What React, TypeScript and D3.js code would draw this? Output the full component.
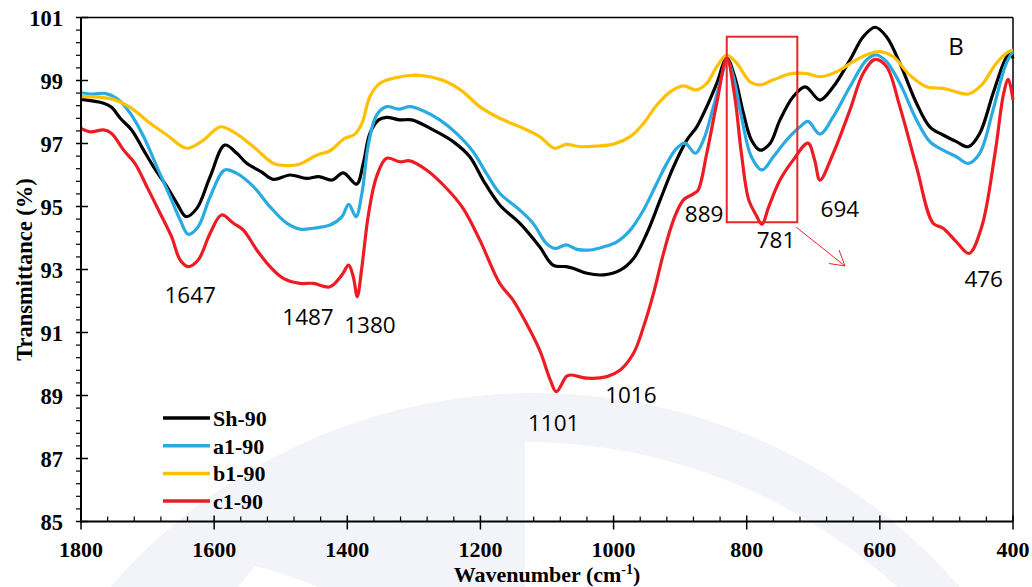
import React from "react";
import * as d3 from "d3";

type Pt = [number, number];

const xDomain: [number, number] = [1800, 400];
const yDomain: [number, number] = [85, 101];
const xTicks = [1800, 1600, 1400, 1200, 1000, 800, 600, 400];
const yTicks = [85, 87, 89, 91, 93, 95, 97, 99, 101];

const seriesNames = ["Sh-90", "a1-90", "b1-90", "c1-90"];
const seriesColors = ["#000000", "#29abe2", "#ffc000", "#ed1c24"];

const sh90: Pt[] = [
  [1800, 98.4], [1766, 98.28], [1754, 98.15], [1741, 97.8], [1724, 97.43], [1706, 96.79], [1691, 96.26],
  [1671, 95.63], [1656, 95.1], [1642, 94.68], [1626, 94.94], [1606, 95.95], [1584, 96.95], [1566, 96.69],
  [1551, 96.37], [1529, 96.1], [1511, 95.86], [1486, 96.0], [1461, 95.89], [1443, 95.95], [1423, 95.84],
  [1406, 96.07], [1386, 95.71], [1376, 96.37], [1366, 97.32], [1353, 97.75], [1341, 97.83], [1321, 97.75],
  [1303, 97.75], [1271, 97.43], [1241, 97.06], [1216, 96.58], [1196, 95.84], [1171, 95.05], [1141, 94.47],
  [1111, 93.72], [1091, 93.14], [1071, 93.09], [1061, 93.04], [1040, 92.88], [1015, 92.83], [990, 92.98],
  [970, 93.35], [950, 94.15], [930, 95.21], [910, 96.26], [890, 97.11], [875, 97.53], [860, 98.17],
  [845, 98.91], [830, 99.7], [818, 99.12], [805, 97.96], [793, 97.11], [780, 96.79], [765, 97.0],
  [750, 97.75], [730, 98.49], [712, 98.8], [690, 98.38], [670, 98.8], [645, 99.65], [625, 100.39],
  [607, 100.69], [590, 100.39], [570, 99.55], [545, 98.28], [525, 97.53], [505, 97.27], [485, 97.06],
  [467, 96.9], [450, 97.32], [430, 98.59], [412, 99.65], [404, 99.88], [400, 99.7],
];

const a190: Pt[] = [
  [1800, 98.61], [1782, 98.57], [1764, 98.59], [1746, 98.43], [1726, 97.96], [1706, 97.22], [1686, 96.26],
  [1666, 95.31], [1651, 94.57], [1639, 94.12], [1624, 94.36], [1606, 95.31], [1584, 96.16], [1566, 96.05],
  [1541, 95.63], [1516, 94.99], [1491, 94.47], [1471, 94.28], [1451, 94.31], [1426, 94.41], [1408, 94.68],
  [1398, 95.07], [1387, 94.68], [1378, 95.42], [1368, 97.01], [1356, 97.9], [1341, 98.17], [1323, 98.09],
  [1306, 98.17], [1286, 98.04], [1261, 97.75], [1236, 97.32], [1211, 96.74], [1191, 96.05], [1171, 95.42],
  [1141, 94.89], [1121, 94.47], [1101, 93.83], [1088, 93.67], [1071, 93.78], [1055, 93.64], [1035, 93.62],
  [1015, 93.72], [995, 93.88], [975, 94.25], [955, 94.89], [935, 95.74], [920, 96.37], [905, 96.85],
  [893, 97.01], [877, 96.69], [865, 97.11], [850, 98.17], [835, 99.33], [830, 99.67], [820, 99.12],
  [808, 97.85], [793, 96.58], [777, 96.16], [760, 96.58], [740, 97.11], [720, 97.53], [708, 97.7],
  [690, 97.3], [670, 97.85], [645, 98.8], [620, 99.65], [605, 99.81], [590, 99.6], [570, 98.91],
  [545, 97.75], [525, 97.06], [505, 96.79], [485, 96.58], [467, 96.37], [450, 96.69], [430, 98.06],
  [412, 99.44], [402, 99.86], [400, 99.9],
];

const b190: Pt[] = [
  [1800, 98.49], [1771, 98.47], [1751, 98.4], [1726, 98.15], [1696, 97.64], [1671, 97.27], [1641, 96.85],
  [1616, 97.11], [1591, 97.53], [1571, 97.37], [1541, 96.9], [1511, 96.37], [1491, 96.3], [1471, 96.35],
  [1446, 96.63], [1426, 96.77], [1404, 97.16], [1389, 97.29], [1378, 97.64], [1366, 98.49], [1351, 98.91],
  [1331, 99.07], [1298, 99.17], [1276, 99.12], [1251, 98.96], [1226, 98.64], [1201, 98.17], [1171, 97.8],
  [1141, 97.53], [1111, 97.22], [1089, 96.85], [1071, 96.97], [1051, 96.9], [1025, 96.92], [1000, 96.98],
  [975, 97.22], [955, 97.64], [935, 98.22], [915, 98.64], [895, 98.83], [876, 98.7], [860, 98.91],
  [845, 99.44], [830, 99.81], [815, 99.55], [795, 98.96], [780, 98.86], [760, 99.02], [735, 99.21],
  [710, 99.22], [688, 99.12], [665, 99.28], [640, 99.6], [615, 99.86], [597, 99.91], [580, 99.76],
  [555, 99.17], [530, 98.8], [505, 98.75], [485, 98.64], [467, 98.57], [447, 98.86], [425, 99.55],
  [407, 99.91], [400, 99.97],
];

const c190: Pt[] = [
  [1800, 97.48], [1786, 97.37], [1766, 97.43], [1754, 97.32], [1736, 96.79], [1719, 96.37], [1701, 95.63],
  [1681, 94.78], [1664, 94.04], [1651, 93.3], [1639, 93.09], [1624, 93.3], [1606, 94.15], [1589, 94.73],
  [1571, 94.47], [1556, 94.25], [1536, 93.62], [1516, 93.09], [1496, 92.72], [1471, 92.56], [1451, 92.56],
  [1426, 92.45], [1408, 92.83], [1398, 93.14], [1391, 92.77], [1385, 92.14], [1378, 93.09], [1368, 94.78],
  [1356, 95.95], [1341, 96.53], [1321, 96.42], [1306, 96.45], [1281, 96.16], [1251, 95.58], [1226, 94.94],
  [1201, 93.94], [1171, 92.56], [1151, 92.03], [1131, 91.29], [1111, 90.44], [1095, 89.49], [1086, 89.12],
  [1071, 89.6], [1065, 89.65], [1040, 89.55], [1010, 89.6], [990, 89.81], [970, 90.34], [955, 91.18],
  [940, 92.24], [925, 93.51], [910, 94.57], [895, 95.21], [880, 95.4], [873, 95.52], [860, 96.69],
  [845, 98.28], [830, 99.7], [818, 98.49], [808, 96.69], [797, 95.21], [786, 94.73], [777, 94.44],
  [767, 94.99], [750, 95.84], [730, 96.48], [708, 97.01], [698, 96.48], [690, 95.84], [670, 96.69],
  [645, 98.06], [625, 99.23], [607, 99.67], [590, 99.44], [570, 98.17], [545, 96.26], [520, 94.47],
  [505, 94.31], [485, 93.88], [466, 93.51], [447, 94.36], [427, 96.69], [414, 98.59], [407, 99.04],
  [400, 98.38],
];

const seriesData = [sh90, a190, b190, c190];

// peak annotations: [label, wavenumber position, value position (baseline)]
const peakLabels: [string, number, number][] = [
  ["1647", 1636, 91.94],
  ["1487", 1459, 91.24],
  ["1380", 1366, 90.98],
  ["1101", 1090, 87.87],
  ["1016", 974, 88.76],
  ["889", 864, 94.51],
  ["781", 756, 93.68],
  ["694", 660, 94.67],
  ["476", 444, 92.44],
];

const W = 1032;
const H = 587;
const left = 81;
const right = 1013;
const top = 17.5;
const bottom = 521.5;

export default function App() {
  const x = d3.scaleLinear().domain(xDomain).range([left, right]);
  const y = d3.scaleLinear().domain(yDomain).range([bottom, top]);
  const line = d3
    .line<Pt>()
    .x((d) => x(d[0]))
    .y((d) => y(d[1]))
    .curve(d3.curveCatmullRom.alpha(0.5));

  const xMinor = d3.range(1800, 399, -40).filter((v) => v % 200 !== 0);
  const yMinor = d3
    .range(85, 101.01, 0.4)
    .filter((v) => Math.abs((v - 85) / 2 - Math.round((v - 85) / 2)) > 0.01);

  const serif = "'Liberation Serif', 'Times New Roman', serif";
  const sans = "'Open Sans', 'Noto Sans', sans-serif";

  const boxL = x(830), boxR = x(724), boxT = y(100.39), boxB = y(94.5);
  const arrowStart: [number, number] = [boxR - 1, boxB + 5];
  const arrowEnd: [number, number] = [845, 266];

  return (
    <svg
      width={W}
      height={H}
      style={{ position: "absolute", left: 0, top: 0, background: "#fff" }}
      xmlns="http://www.w3.org/2000/svg"
    >
      <defs>
        <clipPath id="rightHalf">
          <rect x={525} y={0} width={W} height={H} />
        </clipPath>
      </defs>
      {/* faint watermark */}
      <circle cx={535} cy={955} r={562} fill="#f3f4f9" />
      <circle cx={525} cy={992} r={550} fill="#ffffff" clipPath="url(#rightHalf)" />
      <path d="M 238 587 L 255 566 Q 280 572 318 587 Z" fill="#ffffff" />

      {/* frame */}
      <line x1={left} x2={right} y1={top} y2={top} stroke="#000" strokeWidth={1.5} />
      <line x1={right} x2={right} y1={top} y2={bottom} stroke="#000" strokeWidth={1.5} />

      {/* series */}
      {seriesData.map((s, i) => (
        <path key={i} d={line(s) || ""} fill="none" stroke={seriesColors[i]} strokeWidth={3.2} strokeLinejoin="round" />
      ))}

      {/* axes */}
      <line x1={left} x2={left} y1={top} y2={bottom + 1} stroke="#000" strokeWidth={2} />
      <line x1={left - 1} x2={right} y1={bottom} y2={bottom} stroke="#000" strokeWidth={2} />
      {xTicks.map((t) => (
        <g key={"xt" + t}>
          <line x1={x(t)} x2={x(t)} y1={bottom - 6} y2={bottom + 8} stroke="#000" strokeWidth={1.5} />
          <text x={x(t)} y={557} textAnchor="middle" fontFamily={serif} fontWeight="bold" fontSize={22}>
            {t}
          </text>
        </g>
      ))}
      {xMinor.map((t) => (
        <line key={"xm" + t} x1={x(t)} x2={x(t)} y1={bottom - 5} y2={bottom} stroke="#000" strokeWidth={1.2} />
      ))}
      {yTicks.map((t) => (
        <g key={"yt" + t}>
          <line x1={left - 5} x2={left + 7} y1={y(t)} y2={y(t)} stroke="#000" strokeWidth={1.5} />
          <text x={63} y={y(t) + 8} textAnchor="end" fontFamily={serif} fontWeight="bold" fontSize={22.5}>
            {t}
          </text>
        </g>
      ))}
      {yMinor.map((t) => (
        <line key={"ym" + t} x1={left - 5} x2={left} y1={y(t)} y2={y(t)} stroke="#000" strokeWidth={1.2} />
      ))}

      {/* axis titles */}
      <text
        transform={`translate(32, ${(top + bottom) / 2}) rotate(-90)`}
        textAnchor="middle"
        fontFamily={serif}
        fontWeight="bold"
        fontSize={22.5}
      >
        Transmittance (%)
      </text>
      <text x={(left + right) / 2} y={582} textAnchor="middle" fontFamily={serif} fontWeight="bold" fontSize={22}>
        Wavenumber (cm
        <tspan dy={-8} fontSize={14}>-1</tspan>
        <tspan dy={8}>)</tspan>
      </text>

      {/* peak annotations */}
      {peakLabels.map(([lab, w, v]) => (
        <text key={lab} x={x(w)} y={y(v)} textAnchor="middle" fontFamily={sans} fontSize={22.5}>
          {lab}
        </text>
      ))}
      <text x={956} y={55} textAnchor="middle" fontFamily={sans} fontSize={24}>
        B
      </text>

      {/* highlight box and arrow */}
      <rect x={boxL} y={boxT} width={boxR - boxL} height={boxB - boxT} fill="none" stroke="#e8262b" strokeWidth={2} />
      <line x1={arrowStart[0]} y1={arrowStart[1]} x2={arrowEnd[0]} y2={arrowEnd[1]} stroke="#e8262b" strokeWidth={1} />
      <polyline
        points={`829,263.5 ${arrowEnd[0]},${arrowEnd[1]} 839,250`}
        fill="none"
        stroke="#e8262b"
        strokeWidth={1}
      />

      {/* legend */}
      {seriesNames.map((n, i) => (
        <g key={n}>
          <line x1={163} x2={210} y1={418 + i * 27.7} y2={418 + i * 27.7} stroke={seriesColors[i]} strokeWidth={3.5} />
          <text x={213} y={418 + i * 27.7 + 8} fontFamily={serif} fontWeight="bold" fontSize={22}>
            {n}
          </text>
        </g>
      ))}
    </svg>
  );
}
